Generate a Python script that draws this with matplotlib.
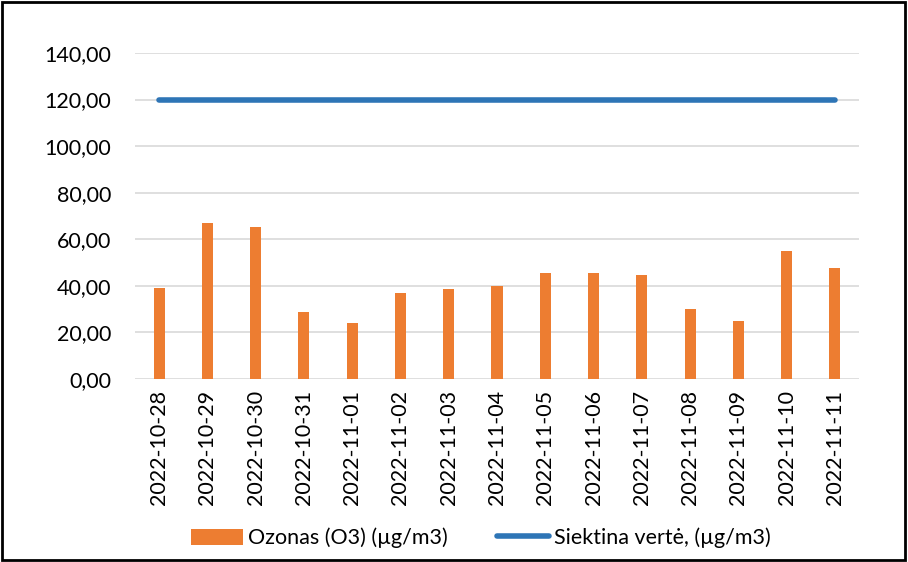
import matplotlib.pyplot as plt
import numpy as np
from matplotlib.patches import Rectangle

plt.rcParams['font.family'] = ['Lato', 'DejaVu Sans']

dates = ['2022-10-28', '2022-10-29', '2022-10-30', '2022-10-31', '2022-11-01',
         '2022-11-02', '2022-11-03', '2022-11-04', '2022-11-05', '2022-11-06',
         '2022-11-07', '2022-11-08', '2022-11-09', '2022-11-10', '2022-11-11']
ozone = [38.9, 67.2, 65.1, 28.6, 24.2, 36.9, 38.6, 39.9, 45.6, 45.6,
         44.8, 29.9, 24.8, 54.9, 47.6]
target = [120] * len(dates)
yticks = [0, 20, 40, 60, 80, 100, 120, 140]

fig = plt.figure(figsize=(9.08, 5.62), dpi=100)
ax = fig.add_axes([135 / 908, 1 - 379 / 562, 724 / 908, (379 - 53) / 562])

x = np.arange(len(dates))
bars = ax.bar(x, ozone, width=0.23, color='#ED7D31', zorder=2)
line, = ax.plot(x, target, color='#2E75B6', lw=4, solid_capstyle='round', zorder=3)

ax.set_xlim(-0.5, len(dates) - 0.5)
ax.set_ylim(0, 140)
ax.set_yticks(yticks)
ax.set_yticklabels([f'{v:.2f}'.replace('.', ',') for v in yticks], fontsize=15.5)
ax.set_xticks(x)
ax.set_xticklabels(dates, rotation=90, fontsize=15.5)
ax.tick_params(axis='y', length=0, pad=17)
ax.tick_params(axis='x', length=0, pad=8)
ax.grid(axis='y', color='#D9D9D9', lw=1.2, zorder=0)
for s in ax.spines.values():
    s.set_visible(False)

fig.legend([bars, line], ['Ozonas (O3) (µg/m3)', 'Siektina vertė, (µg/m3)'],
           loc='center', bbox_to_anchor=(481 / 908, 1 - 538 / 562), ncol=2, frameon=False,
           fontsize=15.5, handlelength=2.4, handleheight=0.8, handletextpad=0.25,
           columnspacing=2.3)

fig.patches.append(Rectangle((0.002, 0.003), 0.995, 0.994, transform=fig.transFigure,
                             fill=False, edgecolor='black', lw=2))

fig.savefig('out.png', dpi=100)
